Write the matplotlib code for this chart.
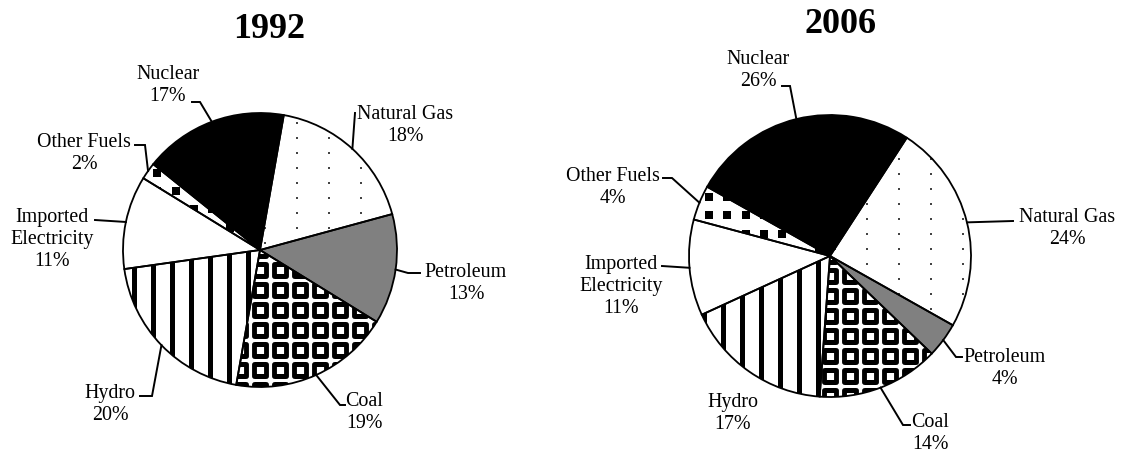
"""Electricity supply mix, 1992 vs 2006 - two hatched pies with leader labels."""
import matplotlib
matplotlib.use("Agg")
import matplotlib.pyplot as plt
import numpy as np

# ---- data -------------------------------------------------------------
sources = ["Natural Gas", "Petroleum", "Coal", "Hydro",
           "Imported\nElectricity", "Other Fuels", "Nuclear"]
share_1992 = [18, 13, 19, 20, 11, 2, 17]
share_2006 = [24, 4, 14, 17, 11, 4, 26]
years = ["1992", "2006"]

W, H = 1123, 457
LABEL_FONT = dict(family="Liberation Serif", size=14.4)


def P(x, y):
    """pixel position measured from the top-left -> data coords (y up)"""
    return x, H - y


fig = plt.figure(figsize=(W / 100, H / 100), dpi=100)
ax = fig.add_axes([0, 0, 1, 1])

# per-pie layout: centre, radius, start angle, title pos, label layout
# label layout: text anchor (centre x, cap top y), leader elbows (from text side)
layouts = [
    dict(center=P(260, 250), r=137, start=80, title=P(269, 38),
         labels=[((405, 105), [(355, 113)]),                 # Natural Gas
                 ((466, 263), [(420, 273), (408, 273)]),     # Petroleum
                 ((364, 392), [(345, 405), (340, 405)]),     # Coal
                 ((110, 384), [(140, 396), (152, 396)]),     # Hydro
                 ((52, 208), [(95, 220)]),                   # Imported
                 ((84, 133), [(135, 145), (145, 145)]),      # Other Fuels
                 ((168, 65), [(192, 102), (200, 102)])]),    # Nuclear
    dict(center=P(830, 256), r=141, start=57, title=P(840, 33),
         labels=[((1067, 208), [(1013, 221)]),
                 ((1005, 348), [(962, 357), (956, 357)]),
                 ((930, 413), [(910, 425), (903, 425)]),
                 ((733, 393), None),
                 ((621, 255), [(662, 266)]),
                 ((613, 167), [(663, 178), (672, 178)]),
                 ((758, 50), [(782, 86), (790, 86)])]),
]

faces = ["white", "#808080", "white", "white", "white", "white", "black"]


def texture(kind, wedge, cx, cy, r):
    """fill a wedge with a clipped pattern"""
    if kind == "dots":
        xs = cx + 37 + 32 * np.arange(-6, 6)
        ys = cy + 7 + 15 * np.arange(-11, 11)
        gx, gy = np.meshgrid(xs, ys)
        art = ax.scatter(gx.ravel(), gy.ravel(), s=4.0, marker="s",
                         color="#444444", linewidths=0, zorder=3)
    elif kind == "rings":
        xs = cx + 20 * np.arange(-8, 9)
        ys = cy + 20 * np.arange(-8, 9)
        gx, gy = np.meshgrid(xs, ys)
        art = ax.scatter(gx.ravel(), gy.ravel(), s=8.6 ** 2, marker="s",
                         facecolor="white", edgecolor="black",
                         linewidths=3.5, zorder=3)
    elif kind == "stripes":
        xs = cx - 12 + 19 * np.arange(-8, 8)
        art = ax.vlines(xs, cy - r, cy + r, color="black",
                        linewidth=3.6, zorder=3)
    elif kind == "squares":
        xs = cx + 7 + 18.3 * np.arange(-9, 9)
        ys = cy + 4 + 18.3 * np.arange(-9, 9)
        gx, gy = np.meshgrid(xs, ys)
        art = ax.scatter(gx.ravel(), gy.ravel(), s=5.8 ** 2, marker="s",
                         color="black", linewidths=0, zorder=3)
    else:
        return
    art.set_clip_path(wedge)


patterns = ["dots", None, "rings", "stripes", None, "squares", None]

for year, shares, lay in zip(years, [share_1992, share_2006], layouts):
    cx, cy = lay["center"]
    r = lay["r"]
    wedges, _ = ax.pie(shares, colors=faces, startangle=lay["start"],
                       counterclock=False, center=(cx, cy), radius=r,
                       wedgeprops=dict(linewidth=0), frame=True)
    for w in wedges:
        w.set_zorder(2)
    for w, kind in zip(wedges, patterns):
        texture(kind, w, cx, cy, r)
    # outlines on top of the textures
    ax.pie(shares, colors=["none"] * len(shares), startangle=lay["start"],
           counterclock=False, center=(cx, cy), radius=r, frame=True,
           wedgeprops=dict(linewidth=1.3, edgecolor="black", zorder=4))

    for w, name, pct, (txt_pos, elbows) in zip(wedges, sources, shares, lay["labels"]):
        ax.text(*P(*txt_pos), f"{name}\n{pct}%", ha="center", va="top",
                multialignment="center", linespacing=1.2, zorder=6, **LABEL_FONT)
        if elbows is None:
            continue
        mid = np.deg2rad((w.theta1 + w.theta2) / 2)
        edge = (cx + r * np.cos(mid), cy + r * np.sin(mid))
        pts = [P(*e) for e in elbows] + [edge]
        ax.plot([p[0] for p in pts], [p[1] for p in pts], color="black",
                linewidth=1.4, solid_joinstyle="miter", zorder=5)

    ax.text(*lay["title"], year, ha="center", va="baseline",
            family="Liberation Serif", weight="bold", size=26)

ax.set_xlim(0, W)
ax.set_ylim(0, H)
ax.set_aspect("auto")
ax.axis("off")

fig.savefig("out.png", dpi=100, facecolor="white")
